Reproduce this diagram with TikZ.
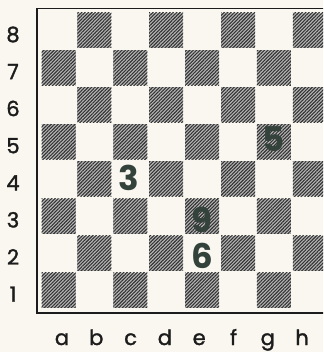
\documentclass[tikz,border=0pt]{standalone}
\usepackage{fontspec}
\setmainfont{Poppins}
\newfontfamily\labfont{Poppins}[FakeBold=1.5]
\usetikzlibrary{patterns.meta}
\definecolor{paper}{RGB}{249,247,239}
\definecolor{ink}{RGB}{28,28,28}
\definecolor{piece}{RGB}{52,66,60}
\begin{document}
\begin{tikzpicture}[x=1pt,y=-1pt,
  darksq/.style={fill=black!28, postaction={pattern={Lines[angle=45,distance=2.4pt,line width=1.1pt]}, pattern color=black!80}},
  ranklab/.style={font=\labfont\fontsize{21}{21}\selectfont, text=ink, inner sep=0pt, anchor=base},
  filelab/.style={font=\labfont\fontsize{21}{21}\selectfont, text=ink, inner sep=0pt, anchor=base},
  piecenum/.style={font=\fontsize{34}{34}\selectfont\bfseries, text=piece, inner sep=0pt, anchor=center},
  frame/.style={draw=ink, line width=1.8pt}]
\fill[paper] (0,0) rectangle (323,352);
\useasboundingbox (0,0) rectangle (323,352);
\begin{scope}
\clip (0,0) rectangle (323,352);
\foreach \c in {0,...,7}{
  \foreach \r in {1,...,8}{
    \pgfmathtruncatemacro\s{mod(\c+\r,2)}
    \ifnum\s=1
      \path[darksq] ({41.5+35.9*\c},{13+37.1*(8-\r)}) rectangle ++(34,35);
    \fi
  }
}
\draw[frame] (330,8.5) -- (37,8.5) -- (37,313) -- (330,313);
\end{scope}
\foreach \r in {1,...,8}{
  \node[ranklab] (rank\r) at (13,{13+37.1*(8-\r)+17.5+11.5}) {\r};
}
\foreach \l [count=\i from 0] in {a,b,c,d,e,f,g,h}{
  \node[filelab] (file\l) at ({62+34.3*\i},345) {\l};
}
\node[piecenum] (p3) at (129,177.5) {3};
\node[piecenum] (p9) at (201.5,220) {9};
\node[piecenum] (p6) at (202,255.5) {6};
\node[piecenum] (p5) at (274,139.5) {5};
\end{tikzpicture}
\end{document}
